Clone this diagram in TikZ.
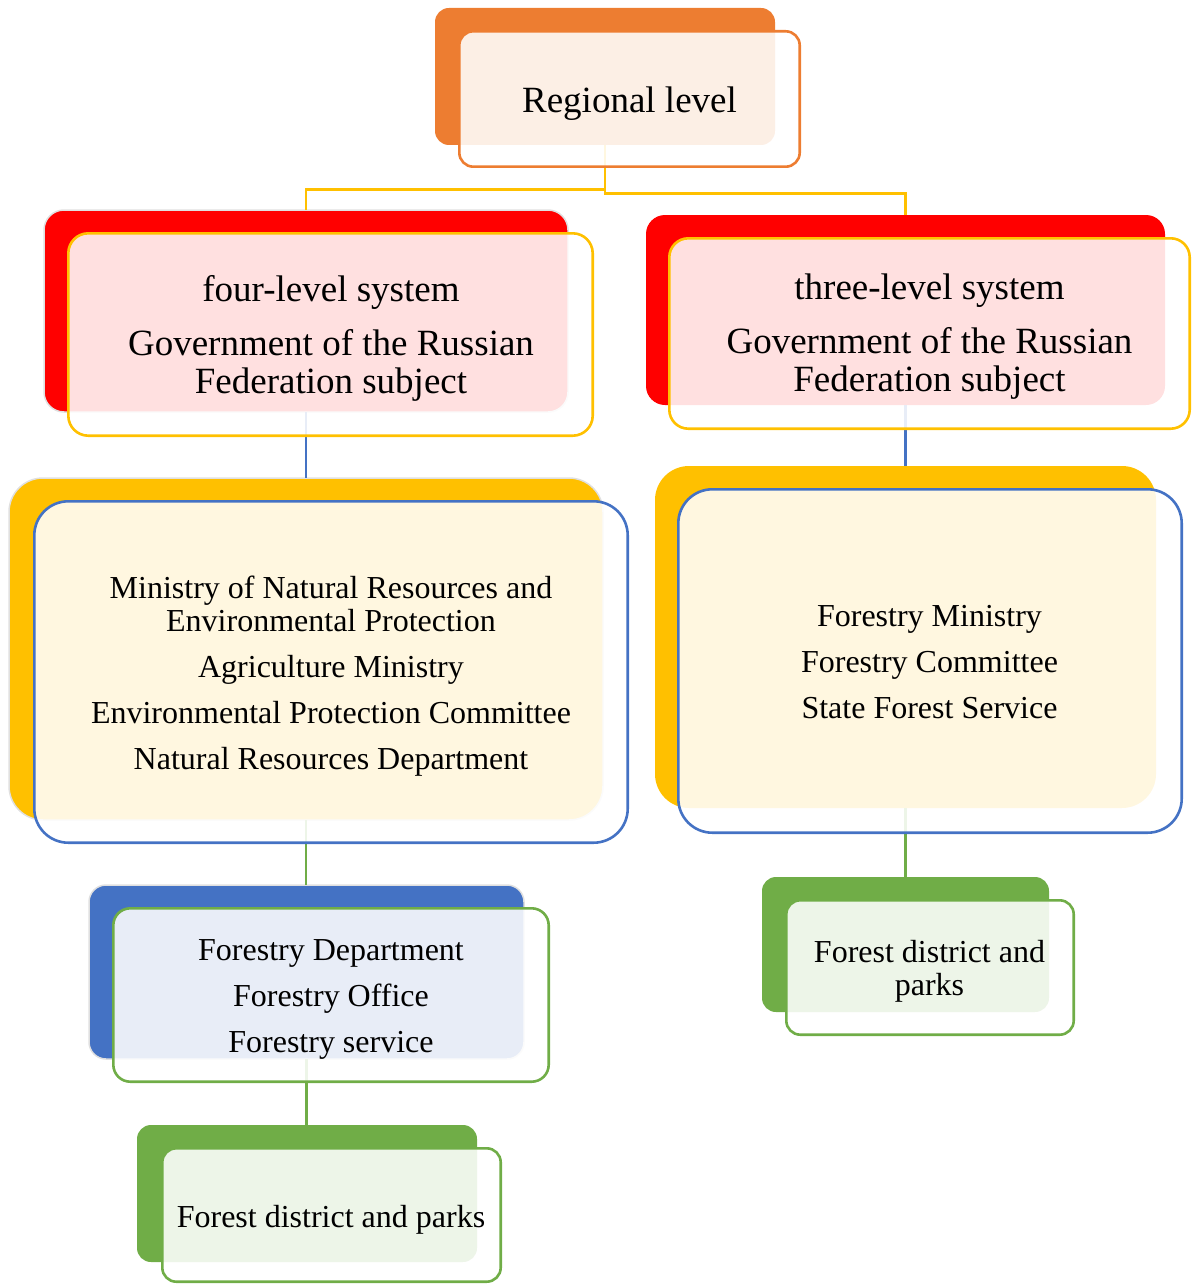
\documentclass[tikz,border=0pt]{standalone}
\usepackage{fontspec}
\setmainfont{Liberation Serif}
\definecolor{cOrange}{HTML}{ED7D31}
\definecolor{cRed}{HTML}{FF0000}
\definecolor{cYellow}{HTML}{FFC000}
\definecolor{cBlue}{HTML}{4472C4}
\definecolor{cGreen}{HTML}{70AD47}
\begin{document}
\begin{tikzpicture}[x=1pt,y=-1pt,
  back/.style={rectangle, inner sep=0pt, outer sep=0pt, draw=none},
  halo/.style={draw=black!12, line width=1.5pt},
  front/.style={rectangle, inner sep=0pt, outer sep=0pt, fill=white, fill opacity=0.88, line width=2.6pt},
  link/.style={line width=2.8pt},
  txt/.style={align=center, inner sep=0pt, text=black},
  big/.style={font=\fontsize{37}{38}\selectfont},
  small/.style={font=\fontsize{32}{33}\selectfont}]
\useasboundingbox (0,0) rectangle (1192,1284);

% back shapes
\node[back, fill=cOrange, minimum width=340pt, minimum height=137pt, rounded corners=14pt] (rb) at (605,76.5) {};
\node[back, halo, fill=cRed, minimum width=524pt, minimum height=202pt, rounded corners=20pt] (glb) at (306,311) {};
\node[back, fill=cRed, minimum width=519pt, minimum height=190pt, rounded corners=19pt] (grb) at (905.5,310) {};
\node[back, halo, fill=cYellow, minimum width=594pt, minimum height=342pt, rounded corners=34pt] (mlb) at (306,649) {};
\node[back, fill=cYellow, minimum width=501pt, minimum height=342pt, rounded corners=34pt] (mrb) at (905.5,637) {};
\node[back, halo, fill=cBlue, minimum width=435pt, minimum height=174pt, rounded corners=17pt] (dlb) at (306.5,972) {};
\node[back, fill=cGreen, minimum width=340pt, minimum height=137pt, rounded corners=14pt] (flb) at (307,1193.5) {};
\node[back, fill=cGreen, minimum width=287pt, minimum height=135pt, rounded corners=14pt] (frb) at (905.5,944.5) {};

% connectors
\coordinate (jl) at (605,189.5);
\coordinate (jr) at (605,193.3);
\draw[link, draw=cYellow] (rb.south) -- (jl) -| (glb.north);
\draw[link, draw=cYellow] (rb.south) -- (jr) -| (grb.north);
\draw[link, draw=cBlue] (glb.south) -- (mlb.north);
\draw[link, draw=cBlue] (grb.south) -- (mrb.north);
\draw[link, draw=cGreen] (mlb.south) -- (mlb.south |- dlb.north);
\draw[link, draw=cGreen] (dlb.south) -- (dlb.south |- flb.north);
\draw[link, draw=cGreen] (mrb.south) -- (frb.north);

% front shapes
\node[front, draw=cOrange, minimum width=340.4pt, minimum height=135.4pt, rounded corners=14pt] (rf) at (629.5,99) {};
\node[front, draw=cYellow, minimum width=524.4pt, minimum height=202.4pt, rounded corners=20pt] (glf) at (330.5,334.5) {};
\node[front, draw=cYellow, minimum width=520.4pt, minimum height=190.4pt, rounded corners=19pt] (grf) at (929.5,333.5) {};
\node[front, draw=cBlue, minimum width=593.4pt, minimum height=341.4pt, rounded corners=34pt] (mlf) at (331,672) {};
\node[front, draw=cBlue, minimum width=503.4pt, minimum height=343.4pt, rounded corners=34pt] (mrf) at (930,661) {};
\node[front, draw=cGreen, minimum width=435.4pt, minimum height=173.4pt, rounded corners=17pt] (dlf) at (331,995) {};
\node[front, draw=cGreen, minimum width=338.4pt, minimum height=133.4pt, rounded corners=14pt] (flf) at (331.5,1215) {};
\node[front, draw=cGreen, minimum width=287.4pt, minimum height=134.4pt, rounded corners=14pt] (frf) at (930,967.5) {};

% texts
\node[txt,big] (t1) at (629.5,104) {Regional level};
\node[txt,big] (t2) at (331,338) {four-level system\\[16pt]Government of the Russian\\Federation subject};
\node[txt,big] (t3) at (929.5,337) {three-level system\\[16pt]Government of the Russian\\Federation subject};
\node[txt,small] (t4) at (331,676) {Ministry of Natural Resources and\\Environmental Protection\\[13pt]Agriculture Ministry\\[13pt]Environmental Protection Committee\\[13pt]Natural Resources Department};
\node[txt,small] (t5) at (929.5,662) {Forestry Ministry\\[13pt]Forestry Committee\\[13pt]State Forest Service};
\node[txt,small] (t6) at (331,999) {Forestry Department\\[13pt]Forestry Office\\[13pt]Forestry service};
\node[txt,small] (t7) at (331,1220) {Forest district and parks};
\node[txt,small] (t8) at (929.5,971) {Forest district and\\parks};
\end{tikzpicture}
\end{document}
